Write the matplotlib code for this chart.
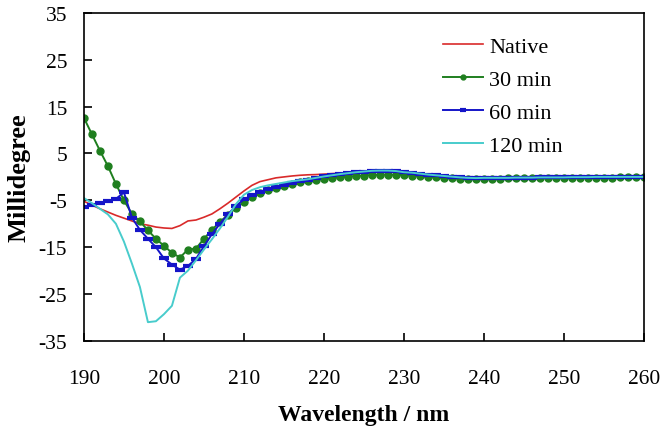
import numpy as np
import matplotlib.pyplot as plt

plt.rcParams['font.family'] = ['Liberation Serif', 'DejaVu Serif']
plt.rcParams['axes.unicode_minus'] = False

# wavelength (nm), one reading per nm
wavelength = np.arange(190, 261)

tail_blue = [-0.2, -0.2, -0.2, -0.2, -0.15, -0.15, -0.15, -0.1, -0.1, -0.1,
             -0.1, -0.05, -0.05, -0.05, 0.0, 0.0, 0.0, 0.0, 0.0, 0.0, 0.0]
tail_green = [-0.35, -0.35, -0.35, -0.3, -0.3, -0.3, -0.3, -0.25, -0.25, -0.25,
              -0.2, -0.2, -0.2, -0.2, -0.15, -0.15, -0.15, -0.1, -0.1, -0.1, -0.1]

native = [-5.2, -6.0, -6.8, -7.5, -8.2, -8.8, -9.4, -10.0, -10.3, -10.7,
          -10.9, -11.0, -10.4, -9.4, -9.2, -8.6, -7.9, -6.8, -5.6, -4.3,
          -3.0, -1.8, -1.0, -0.6, -0.2, 0.0, 0.2, 0.35, 0.45, 0.5,
          0.6, 0.7, 0.8, 0.9, 1.0, 1.1, 1.2, 1.2, 1.2, 1.1,
          1.0, 0.85, 0.65, 0.45, 0.3, 0.15, 0.0, -0.1, -0.2, -0.25] + tail_blue

min30 = [12.6, 9.1, 5.6, 2.3, -1.5, -5.0, -7.9, -9.5, -11.4, -13.2,
         -14.7, -16.2, -17.2, -15.5, -15.3, -13.2, -11.3, -9.6, -8.1, -6.6,
         -5.4, -4.3, -3.5, -2.8, -2.3, -1.9, -1.5, -1.1, -0.8, -0.6,
         -0.4, -0.25, -0.1, 0.05, 0.2, 0.3, 0.4, 0.5, 0.5, 0.45,
         0.4, 0.3, 0.15, 0.0, -0.1, -0.2, -0.3, -0.35, -0.4, -0.4] + tail_green

min60 = [-6.4, -6.1, -5.6, -5.2, -4.7, -3.3, -8.7, -11.3, -13.2, -15.0,
         -17.4, -18.7, -19.8, -19.0, -17.5, -14.8, -12.2, -10.0, -8.0, -6.2,
         -4.8, -3.9, -3.2, -2.6, -2.2, -1.7, -1.2, -0.9, -0.6, -0.25,
         0.1, 0.35, 0.6, 0.8, 1.0, 1.15, 1.3, 1.35, 1.35, 1.25,
         1.0, 0.9, 0.7, 0.5, 0.35, 0.2, 0.05, -0.1, -0.2, -0.25] + tail_blue

min120 = [-4.5, -5.6, -6.8, -8.0, -10.0, -13.8, -18.5, -23.5, -31.0, -30.8,
          -29.3, -27.5, -21.5, -20.0, -17.8, -15.5, -13.3, -11.0, -8.5, -5.8,
          -3.8, -2.8, -2.2, -1.8, -1.5, -1.2, -0.9, -0.7, -0.5, -0.2,
          0.1, 0.35, 0.6, 0.8, 1.0, 1.15, 1.3, 1.35, 1.35, 1.25,
          1.0, 0.9, 0.7, 0.5, 0.35, 0.2, 0.05, -0.1, -0.2, -0.25] + tail_blue

fig = plt.figure(figsize=(6.66, 4.35), dpi=100)
ax = fig.add_axes([0.126, 0.214, 0.841, 0.754])

ax.plot(wavelength, native, color='#d92a2a', lw=1.2, label='Native')
ax.plot(wavelength, min30, color='#1f7f1f', lw=1.4, marker='o', ms=5,
        label='30 min')
ax.plot(wavelength, min60, color='#1515c8', lw=1.4, marker='_', ms=7,
        mew=3, label='60 min')
ax.plot(wavelength, min120, color='#48cccc', lw=1.4, label='120 min')

ax.set_xlim(190, 260)
ax.set_ylim(-35, 35)
ax.set_xticks(np.arange(190, 261, 10))
ax.set_yticks(np.arange(-35, 36, 10))
ax.tick_params(direction='in', length=6, width=1.2, labelsize=15.5)
ax.tick_params(axis='x', pad=20)
ax.tick_params(axis='y', pad=12)
for s in ax.spines.values():
    s.set_linewidth(1.2)

ax.set_xlabel('Wavelength / nm', fontsize=17, fontweight='bold', labelpad=12)
ax.set_ylabel('Millidegree', fontsize=19, fontweight='bold', labelpad=6)

leg = ax.legend(loc='upper left', bbox_to_anchor=(0.605, 0.99), frameon=False,
                fontsize=16, handlelength=1.8, labelspacing=0.56,
                handletextpad=0.3, markerscale=0.7)

fig.savefig('out.png', dpi=100)
